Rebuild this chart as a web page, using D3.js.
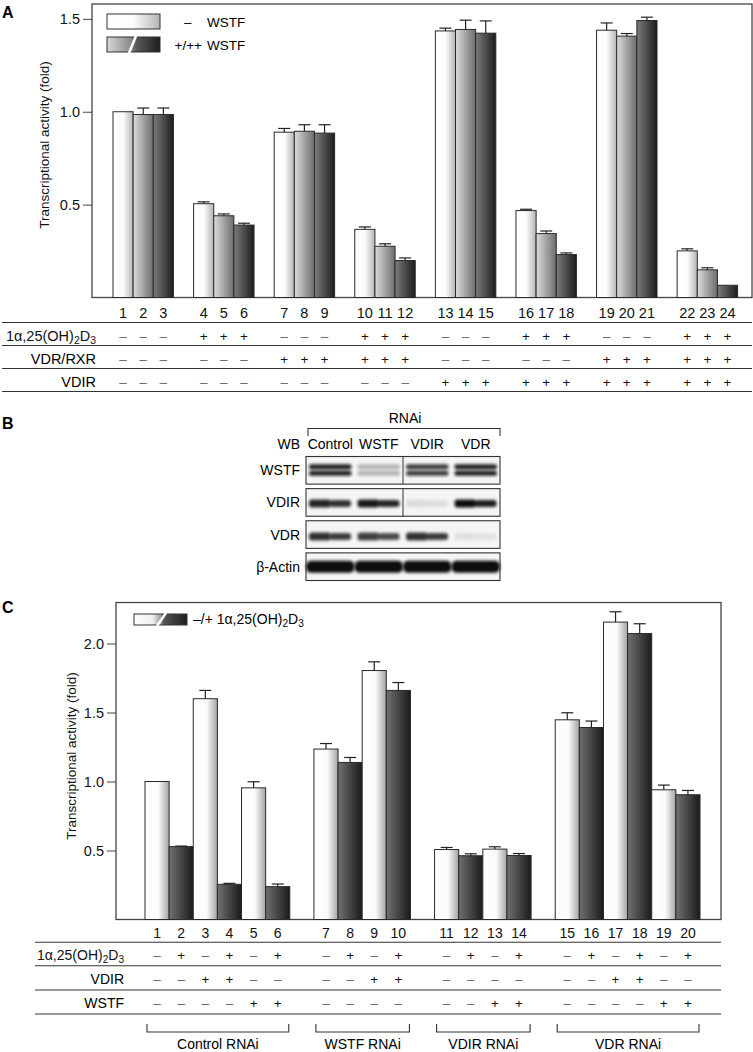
<!DOCTYPE html>
<html><head><meta charset="utf-8">
<script src="https://cdn.jsdelivr.net/npm/d3@7"></script>
<style>body{margin:0;background:#fff}svg{display:block;font-family:"Liberation Sans",Arial,Helvetica,sans-serif}</style>
</head><body><svg id="c" width="753" height="1052"></svg>
<script>
// ---------- DATA ----------
// Panel A
const aLanes = d3.range(1, 25).map(String);
const aValues = [1.0, 0.985, 0.985, 0.505, 0.44, 0.39, 0.89, 0.895, 0.885, 0.367, 0.276, 0.199,
                 1.435, 1.443, 1.423, 0.468, 0.344, 0.231, 1.439, 1.407, 1.491, 0.251, 0.149, 0.066];
const aErrors = [0, 0.035, 0.035, 0.01, 0.01, 0.01, 0.02, 0.035, 0.045, 0.013, 0.013, 0.014,
                 0.015, 0.05, 0.066, 0.007, 0.014, 0.009, 0.039, 0.014, 0.018, 0.011, 0.011, 0];
const aD3     = ["–","–","–","+","+","+","–","–","–","+","+","+","–","–","–","+","+","+","–","–","–","+","+","+"];
const aVDRRXR = ["–","–","–","–","–","–","+","+","+","+","+","+","–","–","–","–","–","–","+","+","+","+","+","+"];
const aVDIR   = ["–","–","–","–","–","–","–","–","–","–","–","–","+","+","+","+","+","+","+","+","+","+","+","+"];
const aYTicks = [0.5, 1.0, 1.5];
const aLegendSigns = ["–", "+/++"];
const aLegendName = "WSTF";
const aYLabel = "Transcriptional activity (fold)";

// Panel B
const blotLanes = ["Control", "WSTF", "VDIR", "VDR"];
const blotRows = ["WSTF", "VDIR", "VDR", "β-Actin"];
const bandIntensity = [
  [0.92, 0.28, 0.8, 0.92],
  [0.9, 0.95, 0.1, 1.0],
  [0.85, 0.78, 0.85, 0.08],
  [1.0, 1.0, 1.0, 1.0]
];

// Panel C
const cLanes = d3.range(1, 21).map(String);
const cValues = [1.0, 0.528, 1.60, 0.255, 0.954, 0.238, 1.235, 1.138, 1.804, 1.66,
                 0.507, 0.462, 0.51, 0.464, 1.447, 1.391, 2.155, 2.072, 0.94, 0.904];
const cErrors = [0, 0.004, 0.06, 0.007, 0.044, 0.019, 0.04, 0.036, 0.063, 0.057,
                 0.015, 0.014, 0.017, 0.014, 0.051, 0.047, 0.075, 0.071, 0.034, 0.031];
const cD3   = ["–","+","–","+","–","+","–","+","–","+","–","+","–","+","–","+","–","+","–","+"];
const cVDIR = ["–","–","+","+","–","–","–","–","+","+","–","–","–","–","–","–","+","+","–","–"];
const cWSTF = ["–","–","–","–","+","+","–","–","–","–","–","–","+","+","–","–","–","–","+","+"];
const cGroups = ["Control RNAi", "WSTF RNAi", "VDIR RNAi", "VDR RNAi"];
const cGroupSizes = [6, 4, 4, 6];
const cYTicks = [0.5, 1.0, 1.5, 2.0];

// ---------- DRAW ----------
const svg = d3.select("#c");
svg.append("rect").attr("width", 753).attr("height", 1052).attr("fill", "#fff");
const defs = svg.append("defs");
function grad(id, stops) {
  const g = defs.append("linearGradient").attr("id", id).attr("x1", 0).attr("x2", 1).attr("y1", 0).attr("y2", 0);
  stops.forEach(s => g.append("stop").attr("offset", s[0]).attr("stop-color", s[1]));
}
grad("gA0", [[0, "#ffffff"], [0.5, "#fcfcfc"], [1, "#b4b4b4"]]);
grad("gA1", [[0, "#dcdcdc"], [1, "#6c6c6c"]]);
grad("gA2", [[0, "#7c7c7c"], [1, "#1c1c1c"]]);
grad("gC0", [[0, "#ffffff"], [0.55, "#fbfbfb"], [1, "#a4a4a4"]]);
grad("gC1", [[0, "#707070"], [1, "#1a1a1a"]]);
grad("gLegA", [[0, "#d8d8d8"], [0.45, "#8a8a8a"], [0.55, "#5a5a5a"], [1, "#1e1e1e"]]);
grad("gLegC", [[0, "#ffffff"], [0.35, "#eeeeee"], [0.5, "#a0a0a0"], [0.56, "#555"], [1, "#1e1e1e"]]);
defs.append("filter").attr("id", "blur").attr("x", "-20%").attr("y", "-50%").attr("width", "140%").attr("height", "200%")
  .append("feGaussianBlur").attr("stdDeviation", 1.6);

const FS = 13.5, TFS = 14.5;
function d3Label(sel, x, y, anchor, size) {
  const t = sel.append("text").attr("x", x).attr("y", y).attr("text-anchor", anchor).attr("font-size", size).attr("fill", "#111");
  t.append("tspan").text("1α,25(OH)");
  t.append("tspan").attr("dy", 3).attr("font-size", size * 0.72).text("2");
  t.append("tspan").attr("dy", -3).text("D");
  t.append("tspan").attr("dy", 3).attr("font-size", size * 0.72).text("3");
  return t;
}
function panelLetter(txt, x, y) {
  svg.append("text").attr("x", x).attr("y", y).attr("font-size", 16).attr("font-weight", "bold").text(txt);
}

// ===== Panel A =====
panelLetter("A", 2, 18);
const aSlot = aLanes.map((d, i) => i + Math.floor(i / 3));
const xA = d3.scaleBand().domain(d3.range(31)).range([113, 737.6]).padding(0);
const yA = d3.scaleLinear().domain([0, 1.58]).range([297.5, 4]);
const gA = svg.append("g");
gA.append("rect").attr("x", 92).attr("y", 4).attr("width", 660).attr("height", 293.5)
  .attr("fill", "none").attr("stroke", "#444").attr("stroke-width", 1.3);
const axA = gA.append("g").attr("transform", "translate(92,0)")
  .call(d3.axisLeft(yA).tickValues(aYTicks).tickSize(9).tickPadding(3).tickFormat(d3.format(".1f")));
axA.select(".domain").remove();
axA.selectAll("line").attr("stroke", "#444");
axA.selectAll("text").attr("font-size", TFS).attr("font-family", "Liberation Sans, Arial, sans-serif").attr("fill", "#111");
gA.append("text").attr("transform", "translate(44,145) rotate(-90)").attr("text-anchor", "middle")
  .attr("dominant-baseline", "central").attr("font-size", FS).attr("fill", "#111").text(aYLabel);

aValues.forEach((v, i) => {
  const x = xA(aSlot[i]), w = xA.bandwidth();
  gA.append("rect").attr("x", x).attr("y", yA(v)).attr("width", w).attr("height", yA(0) - yA(v))
    .attr("fill", `url(#gA${i % 3})`).attr("stroke", "#2a2a2a").attr("stroke-width", 1);
  if (aErrors[i] > 0) {
    const cx = x + w / 2, yt = yA(v + aErrors[i]);
    gA.append("line").attr("x1", cx).attr("x2", cx).attr("y1", yA(v)).attr("y2", yt).attr("stroke", "#222").attr("stroke-width", 1.2);
    gA.append("line").attr("x1", cx - 6).attr("x2", cx + 6).attr("y1", yt).attr("y2", yt).attr("stroke", "#222").attr("stroke-width", 1.2);
  }
});
// legend A
gA.append("rect").attr("x", 107).attr("y", 14).attr("width", 53).attr("height", 15).attr("fill", "url(#gA0)").attr("stroke", "#333");
gA.append("rect").attr("x", 107).attr("y", 37).attr("width", 53).attr("height", 15).attr("fill", "url(#gLegA)").attr("stroke", "#333");
gA.append("line").attr("x1", 129).attr("y1", 53).attr("x2", 136).attr("y2", 36).attr("stroke", "#fff").attr("stroke-width", 2.6);
gA.append("text").attr("x", 184).attr("y", 27).attr("font-size", FS).text(aLegendSigns[0]);
gA.append("text").attr("x", 202).attr("y", 50).attr("text-anchor", "end").attr("font-size", FS).text(aLegendSigns[1]);
gA.append("text").attr("x", 207).attr("y", 27).attr("font-size", FS).text(aLegendName);
gA.append("text").attr("x", 207).attr("y", 50).attr("font-size", FS).text(aLegendName);

// table A
aLanes.forEach((d, i) => {
  const cx = xA(aSlot[i]) + xA.bandwidth() / 2;
  gA.append("text").attr("x", cx).attr("y", 318).attr("text-anchor", "middle").attr("font-size", TFS).attr("fill", "#111").text(d);
  [[aD3, 340.5], [aVDRRXR, 364], [aVDIR, 386.5]].forEach(([arr, y]) => {
    gA.append("text").attr("x", cx).attr("y", y).attr("text-anchor", "middle").attr("font-size", 13.5)
      .attr("fill", arr[i] === "+" ? "#111" : "#666").text(arr[i]);
  });
});
[322.5, 345.5, 368.5, 391.5].forEach(y => gA.append("line").attr("x1", 2).attr("x2", 752).attr("y1", y).attr("y2", y).attr("stroke", "#333").attr("stroke-width", 1.1));
d3Label(gA, 96, 340.5, "end", TFS);
gA.append("text").attr("x", 96).attr("y", 364).attr("text-anchor", "end").attr("font-size", TFS).text("VDR/RXR");
gA.append("text").attr("x", 96).attr("y", 386.5).attr("text-anchor", "end").attr("font-size", TFS).text("VDIR");

// ===== Panel B =====
panelLetter("B", 2, 429);
const gB = svg.append("g");
const xL = d3.scaleBand().domain(blotLanes).range([306, 500]).padding(0);
const yR = d3.scaleBand().domain(blotRows).range([456.5, 580.5]).paddingInner(0.14);
gB.append("text").attr("x", 405).attr("y", 423).attr("text-anchor", "middle").attr("font-size", 14).text("RNAi");
gB.append("path").attr("d", "M308,436V428.5H500V436").attr("fill", "none").attr("stroke", "#333").attr("stroke-width", 1.1);
gB.append("text").attr("x", 300).attr("y", 449).attr("text-anchor", "end").attr("font-size", 14).text("WB");
blotLanes.forEach(l => gB.append("text").attr("x", xL(l) + xL.bandwidth() / 2).attr("y", 449)
  .attr("text-anchor", "middle").attr("font-size", 14).text(l));
blotRows.forEach((r, ri) => {
  const y0 = yR(r), h = yR.bandwidth();
  gB.append("rect").attr("x", 306).attr("y", y0).attr("width", 194).attr("height", h).attr("fill", "#f5f5f5");
  const cy = y0 + h / 2;
  blotLanes.forEach((l, li) => {
    const v = bandIntensity[ri][li];
    const lx = xL(l), lw = xL.bandwidth();
    const bg = gB.append("g").attr("filter", "url(#blur)").attr("opacity", v);
    if (r === "β-Actin") {
      bg.append("rect").attr("x", lx).attr("y", cy - 6).attr("width", lw).attr("height", 12).attr("rx", 5).attr("fill", "#0c0c0c");
    } else if (r === "WSTF") {
      bg.append("rect").attr("x", lx + 3).attr("y", cy - 6).attr("width", lw - 6).attr("height", 5).attr("rx", 2).attr("fill", "#111");
      bg.append("rect").attr("x", lx + 3).attr("y", cy + 0.5).attr("width", lw - 6).attr("height", 5).attr("rx", 2).attr("fill", "#111");
    } else {
      const off = r === "VDIR" ? 1 : 2;
      bg.append("rect").attr("x", lx + 3).attr("y", cy - 4 + off).attr("width", lw * 0.45).attr("height", 8).attr("rx", 3).attr("fill", "#111");
      bg.append("rect").attr("x", lx + lw * 0.48).attr("y", cy - 3.5 + off).attr("width", lw * 0.45).attr("height", 7).attr("rx", 3).attr("fill", "#1a1a1a");
    }
  });
  gB.append("rect").attr("x", 306).attr("y", y0).attr("width", 194).attr("height", h).attr("fill", "none").attr("stroke", "#333").attr("stroke-width", 1.1);
  if (ri < 2) gB.append("line").attr("x1", xL("VDIR")).attr("x2", xL("VDIR")).attr("y1", y0).attr("y2", y0 + h).attr("stroke", "#333");
  gB.append("text").attr("x", 300).attr("y", cy + 5).attr("text-anchor", "end").attr("font-size", 14).text(r);
});

// ===== Panel C =====
panelLetter("C", 2, 613);
const cSlot = [];
let gi = 0, cnt = 0;
cLanes.forEach((d, i) => { cSlot.push(i + gi); cnt++; if (cnt === cGroupSizes[gi]) { gi++; cnt = 0; } });
const xC = d3.scaleBand().domain(d3.range(23)).range([145, 700]).padding(0);
const yC = d3.scaleLinear().domain([0, 2.297]).range([919.5, 602.5]);
const gC = svg.append("g");
gC.append("rect").attr("x", 116).attr("y", 602.5).attr("width", 605).attr("height", 317)
  .attr("fill", "none").attr("stroke", "#444").attr("stroke-width", 1.3);
const axC = gC.append("g").attr("transform", "translate(116,0)")
  .call(d3.axisLeft(yC).tickValues(cYTicks).tickSize(9).tickPadding(3).tickFormat(d3.format(".1f")));
axC.select(".domain").remove();
axC.selectAll("line").attr("stroke", "#444");
axC.selectAll("text").attr("font-size", TFS).attr("font-family", "Liberation Sans, Arial, sans-serif").attr("fill", "#111");
gC.append("text").attr("transform", "translate(71,756) rotate(-90)").attr("text-anchor", "middle")
  .attr("dominant-baseline", "central").attr("font-size", FS).attr("fill", "#111").text(aYLabel);

cValues.forEach((v, i) => {
  const x = xC(cSlot[i]), w = xC.bandwidth();
  gC.append("rect").attr("x", x).attr("y", yC(v)).attr("width", w).attr("height", yC(0) - yC(v))
    .attr("fill", `url(#gC${i % 2})`).attr("stroke", "#2a2a2a").attr("stroke-width", 1);
  if (cErrors[i] > 0) {
    const cx = x + w / 2, yt = yC(v + cErrors[i]);
    gC.append("line").attr("x1", cx).attr("x2", cx).attr("y1", yC(v)).attr("y2", yt).attr("stroke", "#222").attr("stroke-width", 1.2);
    gC.append("line").attr("x1", cx - 6).attr("x2", cx + 6).attr("y1", yt).attr("y2", yt).attr("stroke", "#222").attr("stroke-width", 1.2);
  }
});
// legend C
gC.append("rect").attr("x", 134).attr("y", 614).attr("width", 53).attr("height", 11).attr("fill", "url(#gLegC)").attr("stroke", "#333");
gC.append("line").attr("x1", 157).attr("y1", 626).attr("x2", 166).attr("y2", 613).attr("stroke", "#fff").attr("stroke-width", 2.4);
const lt = gC.append("text").attr("x", 193).attr("y", 624).attr("font-size", 14);
lt.append("tspan").text("–/+ 1α,25(OH)");
lt.append("tspan").attr("dy", 3).attr("font-size", 14 * 0.72).text("2");
lt.append("tspan").attr("dy", -3).text("D");
lt.append("tspan").attr("dy", 3).attr("font-size", 14 * 0.72).text("3");

// table C
cLanes.forEach((d, i) => {
  const cx = xC(cSlot[i]) + xC.bandwidth() / 2;
  gC.append("text").attr("x", cx).attr("y", 937.5).attr("text-anchor", "middle").attr("font-size", 14).attr("fill", "#111").text(d);
  [[cD3, 960], [cVDIR, 984], [cWSTF, 1008]].forEach(([arr, y]) => {
    gC.append("text").attr("x", cx).attr("y", y).attr("text-anchor", "middle").attr("font-size", 13.5)
      .attr("fill", arr[i] === "+" ? "#111" : "#666").text(arr[i]);
  });
});
[942.3, 965.7, 990, 1014].forEach(y => gC.append("line").attr("x1", 35).attr("x2", 721).attr("y1", y).attr("y2", y).attr("stroke", "#333").attr("stroke-width", 1.1));
d3Label(gC, 124, 960, "end", 14);
gC.append("text").attr("x", 124).attr("y", 984).attr("text-anchor", "end").attr("font-size", 14).text("VDIR");
gC.append("text").attr("x", 124).attr("y", 1008).attr("text-anchor", "end").attr("font-size", 14).text("WSTF");
// group brackets
let start = 0;
cGroups.forEach((g, k) => {
  const first = cSlot[start], last = cSlot[start + cGroupSizes[k] - 1];
  const x0 = xC(first) + 2, x1 = xC(last) + xC.bandwidth() - 1;
  gC.append("path").attr("d", `M${x0},1024V1032H${x1}V1024`).attr("fill", "none").attr("stroke", "#333").attr("stroke-width", 1.1);
  gC.append("text").attr("x", (x0 + x1) / 2).attr("y", 1049).attr("text-anchor", "middle").attr("font-size", 14).text(g);
  start += cGroupSizes[k];
});
</script></body></html>
